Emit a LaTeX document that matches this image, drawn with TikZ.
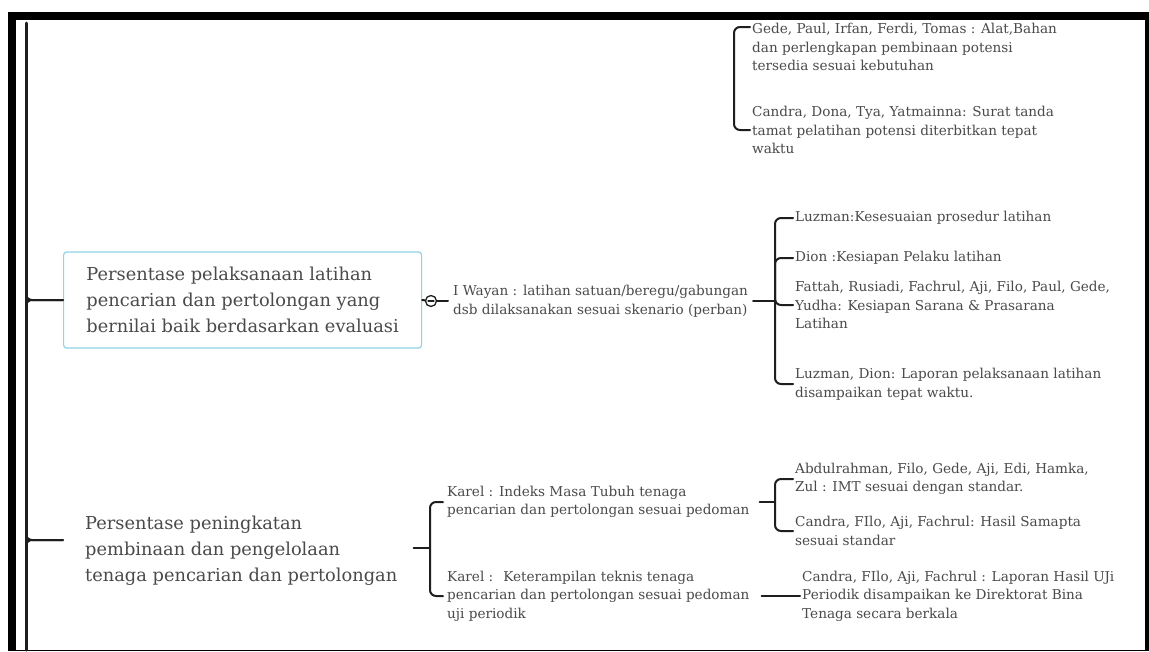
\documentclass[tikz,border=0pt]{standalone}
\usepackage{fontspec}
\setmainfont{DejaVu Serif}
\definecolor{txtgray}{HTML}{4A4A4A}
\definecolor{linkcol}{HTML}{1E1E1E}
\definecolor{boxblue}{HTML}{8FD3E6}
\begin{document}
\begin{tikzpicture}[x=1pt,y=-1pt, line join=round, line cap=round,
	leaf/.style={anchor=west, align=left, text=txtgray, inner xsep=2pt, inner ysep=1pt, font=\fontsize{13.6}{18.5}\selectfont},
	topic/.style={anchor=west, align=left, text=txtgray, inner xsep=22pt, font=\fontsize{17.8}{26}\selectfont},
	link/.style={draw=linkcol, line width=2pt, rounded corners=6pt}]
	\useasboundingbox (0,0) rectangle (1149,651);
	% frame
	\fill[black] (8,12) rectangle (1149,651);
	\fill[white] (16,19.5) rectangle (1145,649.5);
	% trunk
	\coordinate (root) at (26,23); \coordinate (rootend) at (26,650);
	\draw[link, line width=3pt] (root)--(rootend);
	\node[topic, draw=boxblue, line width=1.2pt, rounded corners=3pt, minimum width=358pt, minimum height=96pt] (box1) at (63,300)
		{Persentase pelaksanaan latihan\\pencarian dan pertolongan yang\\bernilai baik berdasarkan evaluasi};
	\node[topic] (n2) at (63,551) {Persentase peningkatan\\pembinaan dan pengelolaan\\tenaga pencarian dan pertolongan};
	\coordinate (j1a) at (26,290); \coordinate (j1b) at (26,310);
	\coordinate (j2a) at (26,530); \coordinate (j2b) at (26,550);
	\draw[link] (j1a) |- (box1.west); \draw[link] (j1b) |- (box1.west);
	\draw[link] (j2a) |- ([yshift=11pt]n2.west); \draw[link] (j2b) |- ([yshift=11pt]n2.west);
	% top group (parent above)
	\node[leaf] (gede) at (750,47) {Gede, Paul, Irfan, Ferdi, Tomas : Alat,Bahan\\dan perlengkapan pembinaan potensi\\tersedia sesuai kebutuhan};
	\node[leaf] (cdy) at (750,130) {Candra, Dona, Tya, Yatmainna: Surat tanda\\tamat pelatihan potensi diterbitkan tepat\\waktu};
	\coordinate (s1) at (734,80);
	\draw[link] (s1) |- ([yshift=20pt]gede.west);
	\draw[link] (s1) |- (cdy.west);
	% latihan
	\node[circle, draw=linkcol, fill=white, line width=1.3pt, minimum size=11pt, inner sep=0pt] (fold) at (431,301) {};
	\node[leaf, inner xsep=5pt] (iw) at (448,301) {I Wayan : latihan satuan/beregu/gabungan\\dsb dilaksanakan sesuai skenario (perban)};
	\draw[link] (box1.east)--(fold); \draw[link] (fold)--(iw.west);
	\draw[linkcol, line width=1.2pt] ([xshift=-3pt]fold.center)--([xshift=3pt]fold.center);
	\node[leaf] (lz1) at (793,218) {Luzman:Kesesuaian prosedur latihan};
	\node[leaf] (dion) at (793,258) {Dion :Kesiapan Pelaku latihan};
	\node[leaf] (fat) at (793,305) {Fattah, Rusiadi, Fachrul, Aji, Filo, Paul, Gede,\\Yudha: Kesiapan Sarana \& Prasarana\\Latihan};
	\node[leaf] (lzd) at (793,384) {Luzman, Dion: Laporan pelaksanaan latihan\\disampaikan tepat waktu.};
	\coordinate (s2) at (775,301);
	\draw[link] (iw.east)--(s2);
	\foreach \c in {lz1,dion,fat,lzd} \draw[link] (s2) |- (\c.west);
	% pembinaan
	\coordinate (s3) at (430,548);
	\draw[link] ([xshift=-6pt]n2.east |- s3)--(s3);
	\node[leaf, inner xsep=4pt] (k1) at (443,502) {Karel : Indeks Masa Tubuh tenaga\\pencarian dan pertolongan sesuai pedoman};
	\node[leaf, inner xsep=4pt] (k2) at (443,596) {Karel : \ Keterampilan teknis tenaga\\pencarian dan pertolongan sesuai pedoman\\uji periodik};
	\foreach \c in {k1,k2} \draw[link] (s3) |- (\c.west);
	\node[leaf] (abd) at (793,479) {Abdulrahman, Filo, Gede, Aji, Edi, Hamka,\\Zul : IMT sesuai dengan standar.};
	\node[leaf] (cfa) at (793,531) {Candra, FIlo, Aji, Fachrul: Hasil Samapta\\sesuai standar};
	\node[leaf] (cfl) at (800,596) {Candra, FIlo, Aji, Fachrul : Laporan Hasil UJi\\Periodik disampaikan ke Direktorat Bina\\Tenaga secara berkala};
	\coordinate (s4) at (775,502);
	\draw[link] ([xshift=6pt]k1.east)--(s4);
	\foreach \c in {abd,cfa} \draw[link] (s4) |- (\c.west);
	\draw[link] ([xshift=8pt]k2.east)--(cfl.west);
\end{tikzpicture}
\end{document}
